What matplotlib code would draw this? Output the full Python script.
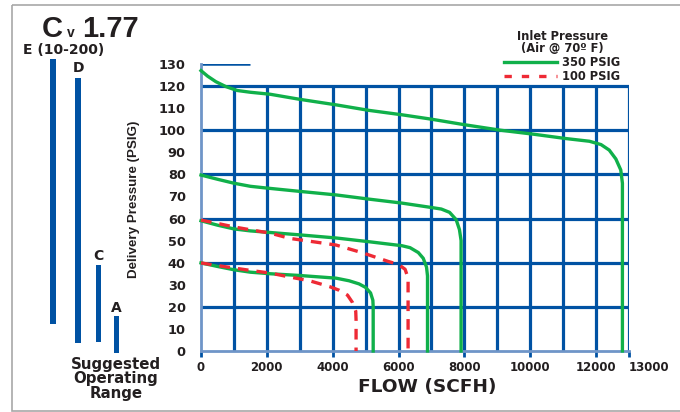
import matplotlib
matplotlib.use('Agg')
import matplotlib.pyplot as plt
from matplotlib.patches import Rectangle
import numpy as np

plt.rcParams['font.family'] = ['DejaVu Sans']
plt.rcParams['font.weight'] = 'bold'

W, H = 680, 412

# 350 PSIG inlet curves (flow SCFH, delivery PSIG)
g120_x = [0, 200, 450, 750, 1100, 1500, 2100, 3000, 4100, 5100, 6100, 7000, 8000, 9100, 10100, 11100, 11800, 12150, 12400, 12600, 12750, 12800, 12800]
g120_y = [127, 124.5, 122, 119.8, 118, 117.2, 116.3, 114, 111.5, 109, 107, 105, 102.5, 100, 98.2, 96.2, 95, 93.5, 91, 87, 82, 76, 0]
g80_x = [0, 500, 1000, 1500, 2000, 3000, 4100, 5100, 6100, 7000, 7300, 7550, 7750, 7850, 7900, 7900]
g80_y = [79.7, 77.8, 76, 74.6, 73.8, 72.3, 70.7, 68.8, 67, 65, 64.3, 62.8, 59.5, 55, 50, 0]
g60_x = [0, 500, 1000, 1500, 2000, 3000, 4100, 5100, 6100, 6350, 6600, 6750, 6850, 6880, 6880]
g60_y = [59, 57, 55.3, 54.4, 53.8, 52.6, 51.2, 49.5, 47.7, 46.8, 44.6, 42, 38, 34, 0]
g40_x = [0, 500, 1000, 1500, 2100, 3000, 4100, 4500, 4800, 5000, 5150, 5220, 5230, 5230]
g40_y = [39.9, 38.3, 36.8, 35.7, 35, 34.2, 33, 31.8, 30.4, 28.8, 26.3, 23, 20, 0]

# 100 PSIG inlet curves
r60_x = [0, 500, 1000, 1500, 2100, 2700, 3500, 4100, 4900, 5700, 6000, 6200, 6290, 6290]
r60_y = [59.3, 57.8, 56.2, 54.9, 53.4, 51, 49.3, 48, 44.5, 40.5, 39.2, 37, 33, 0]
r40_x = [0, 500, 1000, 1500, 2100, 2700, 3300, 3900, 4200, 4450, 4600, 4700, 4710, 4710]
r40_y = [39.9, 38.7, 37.6, 36.5, 35.3, 33.5, 31.8, 29.2, 27.5, 25.3, 22, 18, 14, 0]

x_ticks = [0, 2000, 4000, 6000, 8000, 10000, 12000, 13000]
y_ticks = list(range(0, 131, 10))
x_grid = list(range(1000, 13001, 1000))
y_grid = [20, 40, 60, 80, 100, 120]

# suggested operating range bars (overlay units, 0 = top of page)
bar_labels = ['E (10-200)', 'D', 'C', 'A']
bar_top = [59, 78, 265, 316]
bar_bottom = [324, 343, 342, 353]

BLUE = '#0052a3'
LIGHT = '#6f95c8'
GREEN = '#10b04a'
RED = '#ee2a35'
TXT = '#231f20'

fig = plt.figure(figsize=(W / 100, H / 100), dpi=100)

# page overlay in pixel units
ov = fig.add_axes([0, 0, 1, 1])
ov.set_xlim(0, W)
ov.set_ylim(H, 0)
ov.axis('off')
ov.add_patch(Rectangle((12, 5), 700, 406, fill=False, ec='#a8a8a8', lw=1.2))

ax = fig.add_axes([201 / W, 1 - 351 / H, 428 / W, (351 - 64) / H])
ax.set_xlim(0, 13000)
ax.set_ylim(0, 130)
ax.patch.set_alpha(0)

ax.vlines(x_grid, 0, 120, color=BLUE, lw=2.3, zorder=2)
ax.hlines(y_grid, 0, 13000, color=BLUE, lw=2.3, zorder=2)
ax.hlines(130, 0, 1500, color=BLUE, lw=1.8, zorder=2)

for sp in ['top', 'right']:
    ax.spines[sp].set_visible(False)
ax.spines['left'].set_color(LIGHT)
ax.spines['left'].set_linewidth(2)
ax.spines['bottom'].set_color(LIGHT)
ax.spines['bottom'].set_linewidth(2)

for gx, gy in [(g120_x, g120_y), (g80_x, g80_y), (g60_x, g60_y), (g40_x, g40_y)]:
    ax.plot(gx, gy, color=GREEN, lw=2.4, zorder=3, solid_joinstyle='round', clip_on=False)
for rx, ry in [(r60_x, r60_y), (r40_x, r40_y)]:
    ax.plot(rx, ry, color=RED, lw=2.4, dashes=(3.2, 2.4), zorder=4, clip_on=False)

ax.set_xticks(x_ticks)
ax.set_xticklabels([str(v) for v in x_ticks], fontsize=8.5, fontweight='bold', color=TXT)
ax.get_xticklabels()[-1].set_horizontalalignment('left')
ax.set_yticks(y_ticks)
ax.set_yticklabels([str(v) for v in y_ticks], fontsize=9.3, fontweight='bold', color=TXT)
ax.tick_params(axis='x', length=4, width=2, color=BLUE, pad=3)
ax.tick_params(axis='y', length=0, pad=11)
ax.set_xlabel('FLOW (SCFH)', fontsize=13.3, fontweight='bold', color=TXT)
ax.xaxis.set_label_coords(0.528, -0.095)
ax.set_ylabel('Delivery Pressure (PSIG)', fontsize=9.6, fontweight='bold', color=TXT,
              family=['Liberation Sans', 'DejaVu Sans'])
ax.yaxis.set_label_coords(-0.143, 0.53)

# legend
leg = ax.legend(
    [plt.Line2D([], [], color=GREEN, lw=2.4),
     plt.Line2D([], [], color=RED, lw=2.4, dashes=(2.2, 3.0))],
    ['350 PSIG', '100 PSIG'],
    title='Inlet Pressure\n(Air @ 70º F)', frameon=False,
    loc='lower left', bbox_to_anchor=(0.695, 0.915),
    prop={'size': 8.3, 'weight': 'bold'}, handlelength=4.6, handletextpad=0.45,
    borderpad=0, labelspacing=0.05,
)
title = leg.get_title()
title.set_fontsize(8.3)
title.set_fontweight('bold')
title.set_multialignment('center')
title.set_linespacing(0.95)
title.set_color(TXT)
for t in leg.get_texts():
    t.set_color(TXT)

# title
tfont = ['Liberation Sans', 'DejaVu Sans']
ov.text(42, 37, 'C', fontsize=21, fontweight='bold', color=TXT, va='baseline', family=tfont)
ov.text(67, 37, 'v', fontsize=10, fontweight='bold', color=TXT, va='baseline', family=tfont)
ov.text(82, 37, '1.77', fontsize=21, fontweight='bold', color=TXT, va='baseline', family=tfont)

# suggested operating range bars
bar_x = [53, 78, 98, 116]
bar_w = [6, 6, 5, 5]
label_y = [50, 68, 256, 308]
label_x = [64, 79, 98, 116]
ov.bar(bar_x, [b - t for t, b in zip(bar_top, bar_bottom)], bottom=bar_top,
       width=bar_w, color=BLUE)
for lab, lx, ly in zip(bar_labels, label_x, label_y):
    ov.text(lx, ly, lab, fontsize=10, fontweight='bold', color=TXT, ha='center', va='center')
ov.text(116, 379, 'Suggested\nOperating\nRange', fontsize=10.8, fontweight='bold', color=TXT,
        ha='center', va='center', linespacing=0.95)

fig.savefig('out.png', dpi=100)
